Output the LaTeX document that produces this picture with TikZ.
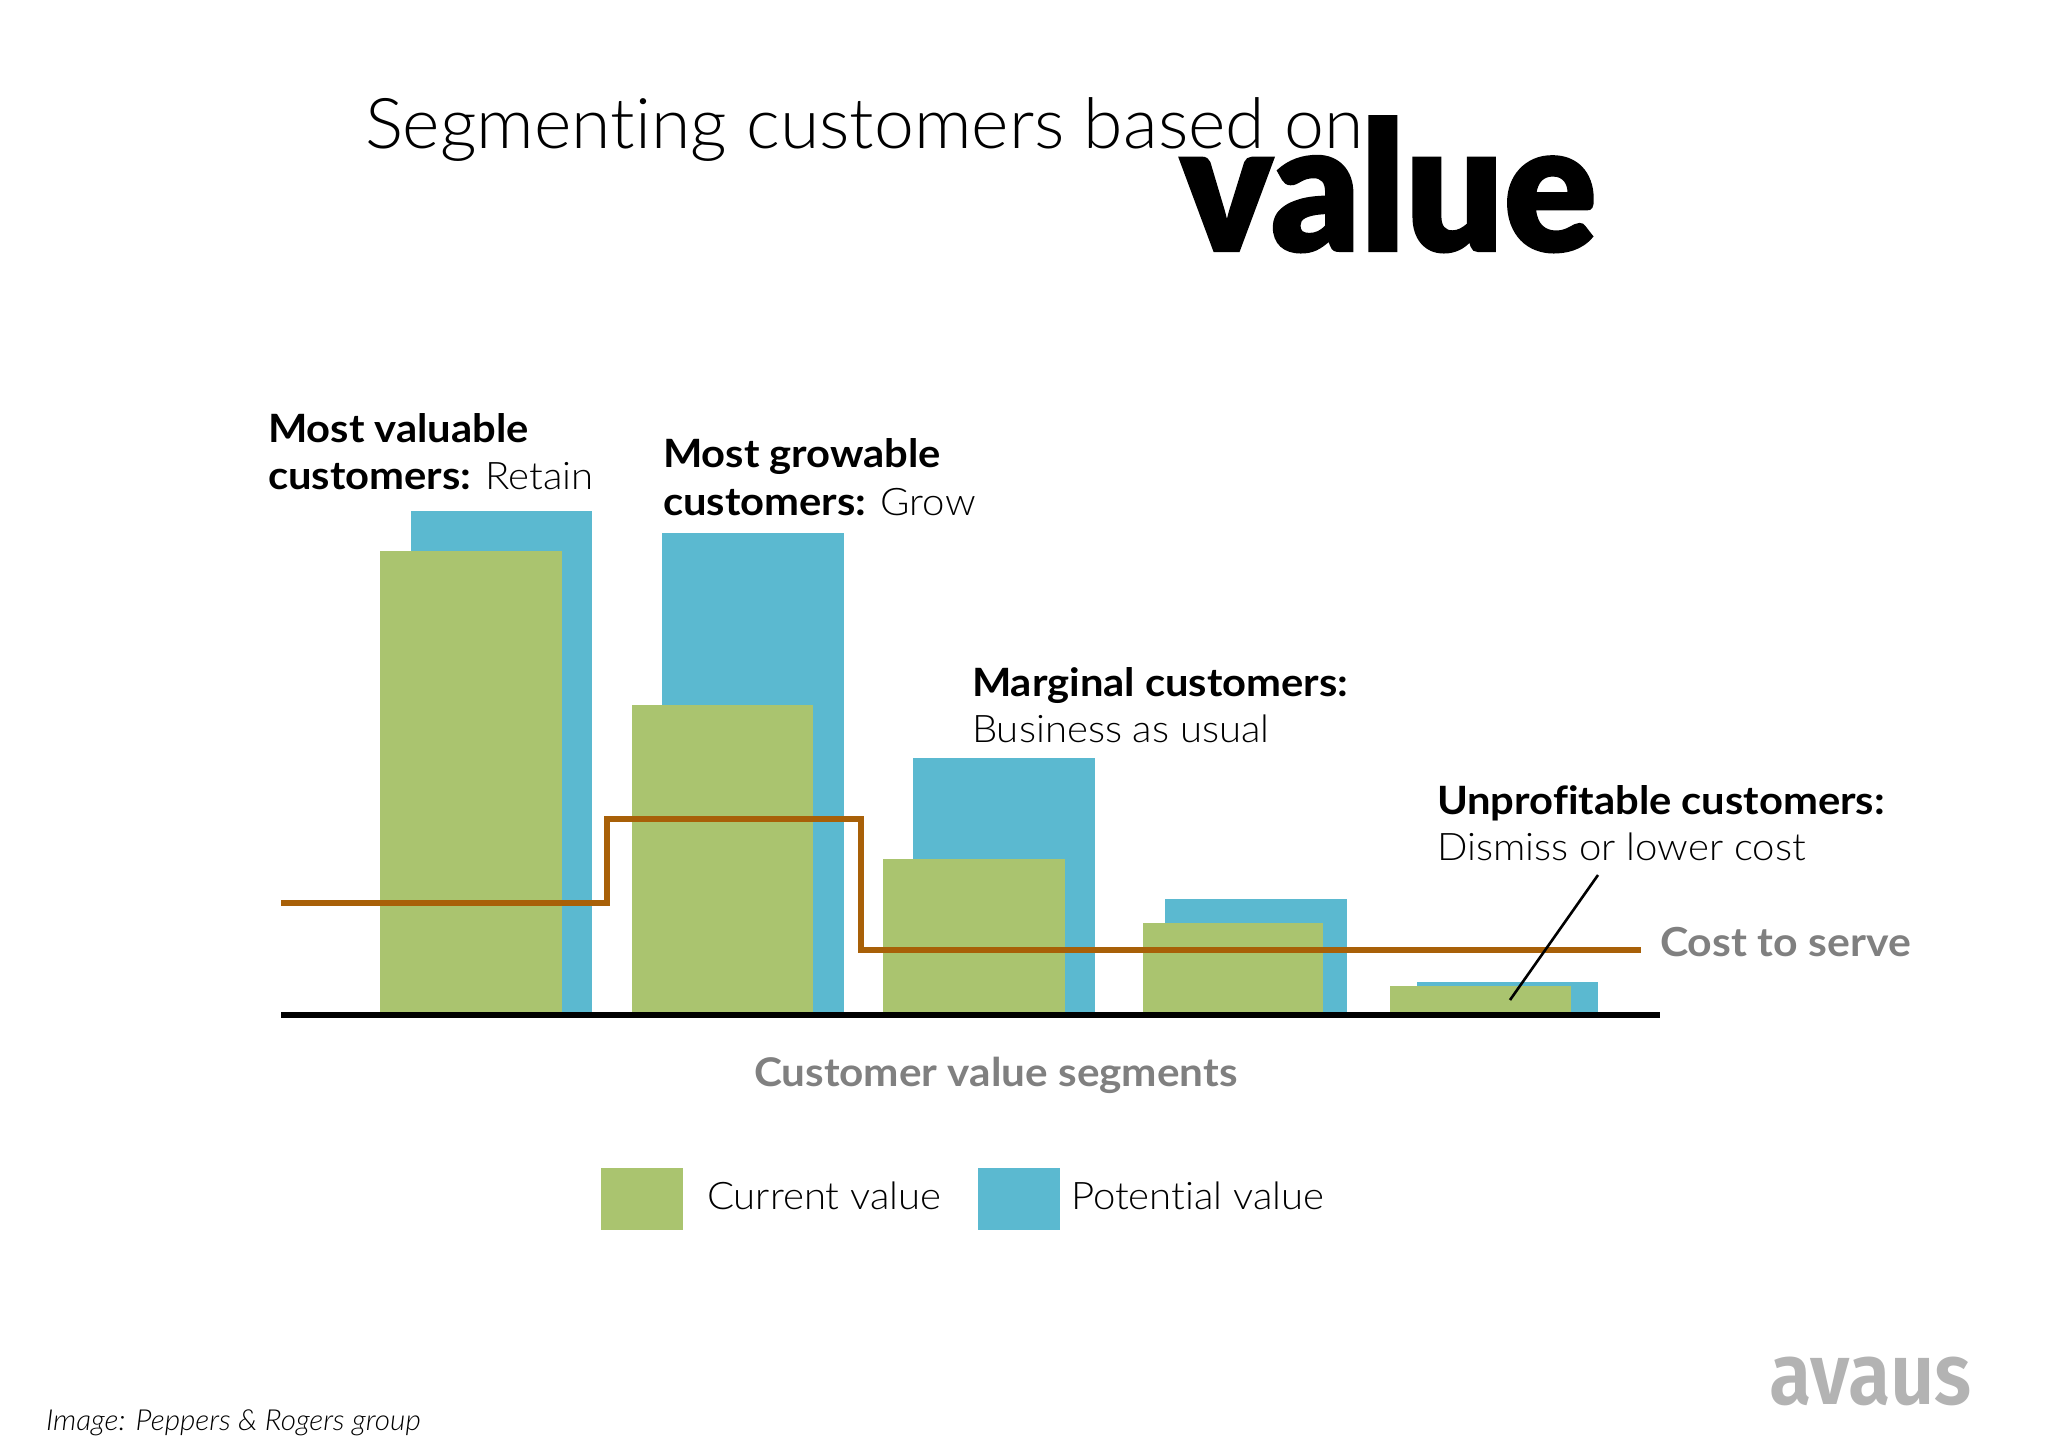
\documentclass[tikz,border=0pt]{standalone}
\usepackage{fontspec}
\setmainfont{Lato}
\newfontfamily\lightf[Ligatures=NoCommon,FakeStretch=1.056]{Lato Light}
\newfontfamily\titlef[Ligatures=NoCommon,FakeStretch=1.022]{Lato Light}
\newfontfamily\creditf[Ligatures=NoCommon,FakeStretch=1.026]{Lato Light}
\newfontfamily\boldf[Ligatures=NoCommon,FakeStretch=1.07]{Lato Bold}
\newfontfamily\valf[FakeBold=1.2,FakeStretch=0.96]{Lato Black}
\newfontfamily\logof[FakeStretch=0.89]{Fira Sans SemiBold}
\definecolor{cur}{HTML}{AAC46F}
\definecolor{pot}{HTML}{5BB9D0}
\definecolor{cost}{HTML}{A86008}
\definecolor{greytxt}{HTML}{808080}
\definecolor{logogrey}{HTML}{B3B3B3}
\newcommand{\fs}[1]{\fontsize{#1}{#1}\selectfont}
\tikzset{
  txt/.style={anchor=base west,inner sep=0pt,outer sep=0pt,align=left},
  lab/.style={txt,font=\lightf\fs{38}},
  greylab/.style={txt,text=greytxt,font=\boldf\fs{40}},
  curbar/.style={fill=cur},
  potbar/.style={fill=pot},
  costline/.style={draw=cost,line width=6pt,line join=miter},
  axisline/.style={draw=black,line width=6pt},
  leader/.style={draw=black,line width=2.6pt}
}
\begin{document}
\begin{tikzpicture}[x=1pt,y=-1pt]
\useasboundingbox[fill=white] (0,0) rectangle (2048,1448);
% potential bars
\fill[potbar] (411,511) rectangle (592,1015);
\fill[potbar] (662,533) rectangle (844,1015);
\fill[potbar] (913,758) rectangle (1095,1015);
\fill[potbar] (1165,899) rectangle (1347,1015);
\fill[potbar] (1417,982) rectangle (1598,1015);
% current bars
\fill[curbar] (380,551) rectangle (562,1015);
\fill[curbar] (632,705) rectangle (813,1015);
\fill[curbar] (883,859) rectangle (1065,1015);
\fill[curbar] (1143,923) rectangle (1323,1015);
\fill[curbar] (1390,986) rectangle (1571,1015);
% axis and cost line
\draw[axisline] (281,1015) -- (1660,1015);
\draw[costline] (281,903) -- (607,903) -- (607,819) -- (861,819) -- (861,950) -- (1641,950);
% title
\node[txt,font=\titlef\fs{70}] (title) at (365,148) {Segmenting customers based on};
\node[txt,font=\valf\fs{180}] (value) at (1180,251) {value};
% segment labels
\node[lab] (s1a) at (268,442) {{\boldf\fs{39}Most valuable}};
\node[lab] (s1b) at (268,489) {{\boldf\fs{39}customers:} Retain};
\node[lab] (s2a) at (663,467) {{\boldf\fs{39}Most growable}};
\node[lab] (s2b) at (663,515) {{\boldf\fs{39}customers:} Grow};
\node[lab] (s3a) at (972,696) {{\boldf\fs{39}Marginal customers:}};
\node[lab] (s3b) at (972,742) {Business as usual};
\node[lab] (s4a) at (1437,814) {{\boldf\fs{39}Unprofitable customers:}};
\node[lab] (s4b) at (1437,860) {Dismiss or lower cost};
\node[greylab] (costlab) at (1660,956) {Cost to serve};
\node[greylab,font=\boldf\fs{39.5}] (xlab) at (754,1086) {Customer value segments};
% leader
\coordinate (leadtop) at (1598,875);
\coordinate (leadbot) at (1510,1000);
\draw[leader] (leadtop) -- (leadbot);
% legend
\fill[curbar] (601,1168) rectangle (683,1230);
\fill[potbar] (978,1168) rectangle (1060,1230);
\node[lab] (l1) at (707,1209) {Current value};
\node[lab] (l2) at (1071,1209) {Potential value};
% footer
\node[txt,font=\creditf\itshape\fs{29}] (credit) at (46,1430) {Image: Peppers \& Rogers group};
\node[txt,text=logogrey,font=\logof\fs{87}] (logo) at (1769,1404) {avaus};
\end{tikzpicture}
\end{document}
